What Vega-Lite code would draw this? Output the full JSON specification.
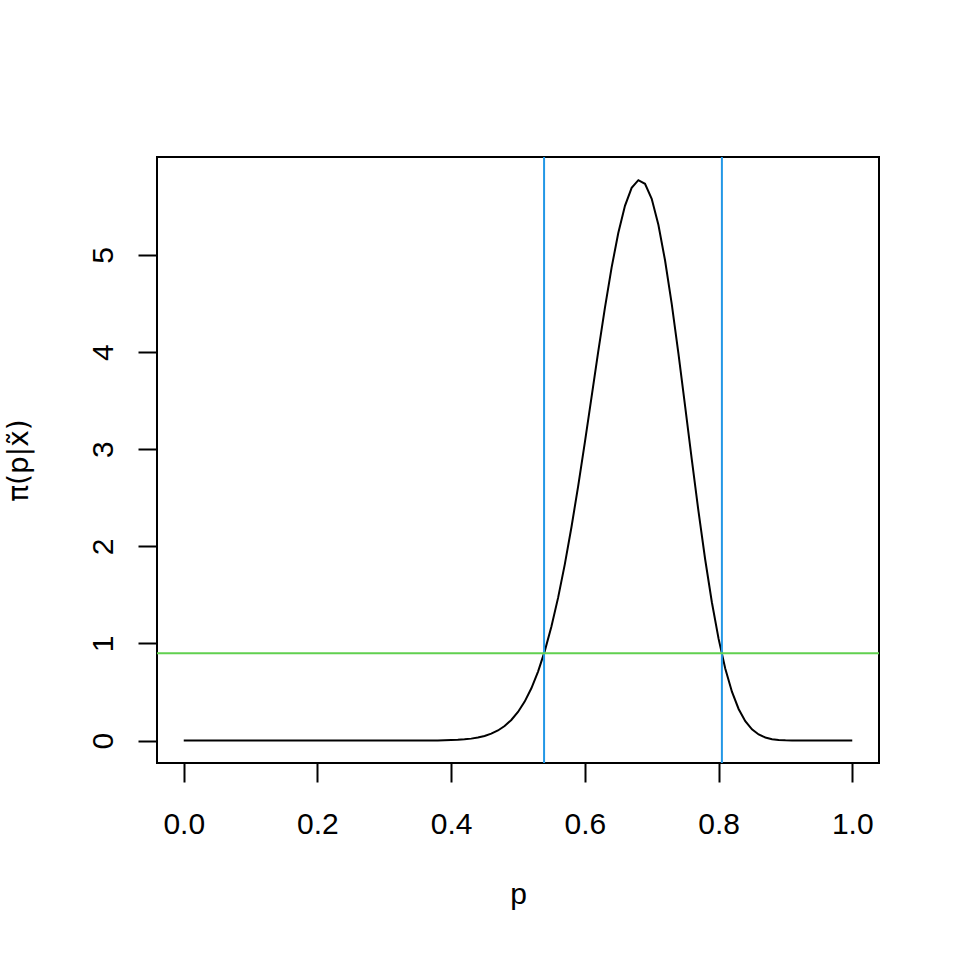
{
  "$schema": "https://vega.github.io/schema/vega-lite/v6.json",
  "width": 722,
  "height": 606,
  "autosize": "none",
  "padding": {"left": 157, "top": 157, "right": 81, "bottom": 197},
  "background": "white",
  "config": {
    "view": {"stroke": "black", "strokeWidth": 2},
    "font": "Liberation Sans",
    "axis": {
      "domain": false,
      "grid": false,
      "ticks": true,
      "tickColor": "black",
      "tickWidth": 2,
      "tickSize": 19,
      "labelColor": "black",
      "labelFontSize": 30,
      "labelFont": "Liberation Sans",
      "titleFont": "Liberation Sans",
      "titleFontSize": 30,
      "titleFontWeight": "normal",
      "titleColor": "black",
      "labelFlush": false,
      "labelOverlap": false
    }
  },
  "layer": [
    {
      "data": {"values": [
        {"p": 0.00, "density": 0}, {"p": 0.01, "density": 0}, {"p": 0.02, "density": 0}, {"p": 0.03, "density": 0}, {"p": 0.04, "density": 0},
        {"p": 0.05, "density": 0}, {"p": 0.06, "density": 0}, {"p": 0.07, "density": 0}, {"p": 0.08, "density": 0}, {"p": 0.09, "density": 0},
        {"p": 0.10, "density": 0}, {"p": 0.11, "density": 0}, {"p": 0.12, "density": 0}, {"p": 0.13, "density": 0}, {"p": 0.14, "density": 0},
        {"p": 0.15, "density": 0}, {"p": 0.16, "density": 0}, {"p": 0.17, "density": 0}, {"p": 0.18, "density": 0}, {"p": 0.19, "density": 0},
        {"p": 0.20, "density": 0}, {"p": 0.21, "density": 0}, {"p": 0.22, "density": 0}, {"p": 0.23, "density": 0}, {"p": 0.24, "density": 0},
        {"p": 0.25, "density": 0}, {"p": 0.26, "density": 0}, {"p": 0.27, "density": 0}, {"p": 0.28, "density": 0}, {"p": 0.29, "density": 0},
        {"p": 0.30, "density": 0}, {"p": 0.31, "density": 0}, {"p": 0.32, "density": 0}, {"p": 0.33, "density": 0}, {"p": 0.34, "density": 0.0001},
        {"p": 0.35, "density": 0.0003}, {"p": 0.36, "density": 0.0005}, {"p": 0.37, "density": 0.0009}, {"p": 0.38, "density": 0.0016}, {"p": 0.39, "density": 0.0028},
        {"p": 0.40, "density": 0.0047}, {"p": 0.41, "density": 0.0078}, {"p": 0.42, "density": 0.0126}, {"p": 0.43, "density": 0.0200}, {"p": 0.44, "density": 0.0311},
        {"p": 0.45, "density": 0.0473}, {"p": 0.46, "density": 0.0708}, {"p": 0.47, "density": 0.1039}, {"p": 0.48, "density": 0.1496}, {"p": 0.49, "density": 0.2117},
        {"p": 0.50, "density": 0.2941}, {"p": 0.51, "density": 0.4014}, {"p": 0.52, "density": 0.5386}, {"p": 0.53, "density": 0.7102}, {"p": 0.54, "density": 0.9208},
        {"p": 0.55, "density": 1.1738}, {"p": 0.56, "density": 1.4714}, {"p": 0.57, "density": 1.8136}, {"p": 0.58, "density": 2.1984}, {"p": 0.59, "density": 2.6199},
        {"p": 0.60, "density": 3.0698}, {"p": 0.61, "density": 3.5363}, {"p": 0.62, "density": 4.0037}, {"p": 0.63, "density": 4.4545}, {"p": 0.64, "density": 4.8685},
        {"p": 0.65, "density": 5.2253}, {"p": 0.66, "density": 5.5054}, {"p": 0.67, "density": 5.6910}, {"p": 0.68, "density": 5.7694}, {"p": 0.69, "density": 5.7318},
        {"p": 0.70, "density": 5.5769}, {"p": 0.71, "density": 5.3099}, {"p": 0.72, "density": 4.9424}, {"p": 0.73, "density": 4.4929}, {"p": 0.74, "density": 3.9840},
        {"p": 0.75, "density": 3.4413}, {"p": 0.76, "density": 2.8915}, {"p": 0.77, "density": 2.3586}, {"p": 0.78, "density": 1.8642}, {"p": 0.79, "density": 1.4244},
        {"p": 0.80, "density": 1.0492}, {"p": 0.81, "density": 0.7428}, {"p": 0.82, "density": 0.5035}, {"p": 0.83, "density": 0.3254}, {"p": 0.84, "density": 0.1994},
        {"p": 0.85, "density": 0.1152}, {"p": 0.86, "density": 0.0623}, {"p": 0.87, "density": 0.0312}, {"p": 0.88, "density": 0.0143}, {"p": 0.89, "density": 0.0060},
        {"p": 0.90, "density": 0.0022}, {"p": 0.91, "density": 0.0007}, {"p": 0.92, "density": 0.0002}, {"p": 0.93, "density": 0}, {"p": 0.94, "density": 0},
        {"p": 0.95, "density": 0}, {"p": 0.96, "density": 0}, {"p": 0.97, "density": 0}, {"p": 0.98, "density": 0}, {"p": 0.99, "density": 0},
        {"p": 1.00, "density": 0}
      ]},
      "mark": {"type": "line", "color": "black", "strokeWidth": 2},
      "encoding": {
        "x": {
          "field": "p", "type": "quantitative",
          "scale": {"domain": [-0.04, 1.04], "nice": false, "zero": false},
          "axis": {
            "values": [0, 0.2, 0.4, 0.6, 0.8, 1.0],
            "format": ".1f",
            "labelBaseline": "alphabetic",
            "labelAlign": "center",
            "labelPadding": 51,
            "title": "p",
            "titleBaseline": "alphabetic",
            "titleY": 140
          }
        },
        "y": {
          "field": "density", "type": "quantitative",
          "scale": {"domain": [-0.231, 6.008], "nice": false, "zero": false},
          "axis": {
            "values": [0, 1, 2, 3, 4, 5],
            "format": "d",
            "labelAngle": -90,
            "labelAlign": "center",
            "labelBaseline": "alphabetic",
            "labelPadding": 26,
            "title": "π(p|x̃)",
            "titleFont": "DejaVu Sans",
            "titleFontSize": 28,
            "titleAngle": -90,
            "titleAlign": "center",
            "titleBaseline": "alphabetic",
            "titleX": -130,
            "titleY": 303
          }
        }
      }
    },
    {
      "data": {"values": [{"p": 0.539}, {"p": 0.805}]},
      "mark": {"type": "rule", "color": "#2297E6", "strokeWidth": 2},
      "encoding": {
        "x": {"field": "p", "type": "quantitative"}
      }
    },
    {
      "data": {"values": [{"density": 0.9}]},
      "mark": {"type": "rule", "color": "#61D04F", "strokeWidth": 2},
      "encoding": {
        "y": {"field": "density", "type": "quantitative"}
      }
    }
  ]
}
